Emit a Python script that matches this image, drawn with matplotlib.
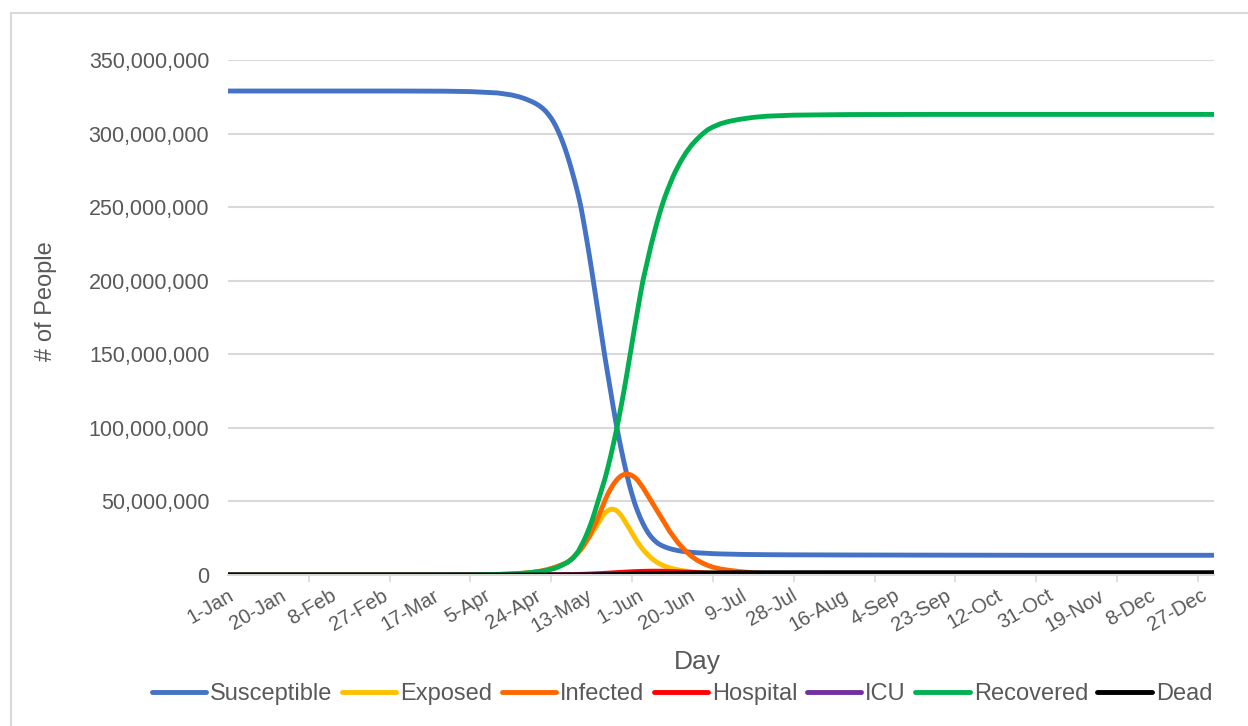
import matplotlib.pyplot as plt
import numpy as np
from matplotlib.ticker import FuncFormatter, FixedLocator
from matplotlib.patches import Rectangle

plt.rcParams['font.family'] = ['Liberation Sans', 'DejaVu Sans']

# day of year (2020) and model output in millions of people
day = [0, 30, 60, 80, 90, 100, 105, 108,
       110, 111, 112, 113, 114, 115, 116, 117, 118, 119, 120,
       121, 122, 123, 124, 125, 126, 127, 128, 129, 130,
       131, 132, 133, 134, 135, 136, 137, 138, 139, 140,
       141, 142, 143, 144, 145, 146, 147, 148, 149, 150,
       151, 152, 153, 154, 155, 156, 157, 158, 159, 160,
       161, 162, 163, 164, 165, 166, 167, 168, 169, 170,
       172, 174, 176, 178, 180, 183, 186, 190, 195, 200, 210, 230, 260, 300, 366]

susceptible = [328.9, 328.9, 328.9, 328.8, 328.5, 327.6, 326.3, 325.0,
               323.8, 323.1, 322.3, 321.5, 320.6, 319.5, 318.3, 316.8, 315.0, 312.8, 310.3,
               307.3, 303.8, 299.8, 295.3, 290.3, 284.8, 278.8, 272.3, 265.5, 258.3,
               250, 240, 229.5, 218.5, 207, 195, 183, 171, 159, 147,
               136, 125, 114, 103.5, 94, 85, 76.5, 68.5, 61, 54.5,
               48.5, 43.5, 39, 35, 31.5, 28.5, 26, 24, 22.3, 21,
               20, 19.2, 18.5, 17.9, 17.4, 17, 16.6, 16.3, 16, 15.8,
               15.4, 15.1, 14.9, 14.7, 14.5, 14.3, 14.2, 14.0, 13.9, 13.8, 13.7, 13.6, 13.5, 13.4, 13.4]
exposed = [0, 0, 0, 0.02, 0.1, 0.3, 0.6, 0.9,
           1.2, 1.35, 1.5, 1.75, 2.0, 2.3, 2.6, 3.0, 3.4, 3.9, 4.4,
           5.0, 5.6, 6.3, 7.0, 7.8, 8.7, 10.0, 11.5, 13.4, 15.5,
           17.6, 20, 22.8, 25.5, 28.3, 31, 34, 37, 40, 42.3,
           43.8, 44.6, 44.7, 44, 42.5, 40.3, 37.5, 34.5, 31.5, 28.3,
           25.3, 22.4, 19.8, 17.4, 15.3, 13.4, 11.7, 10.2, 8.9, 7.8,
           6.9, 6.1, 5.4, 4.8, 4.3, 3.9, 3.5, 3.2, 2.9, 2.6,
           2.2, 1.8, 1.5, 1.3, 1.1, 0.8, 0.6, 0.4, 0.25, 0.15, 0.05, 0, 0, 0, 0]
infected = [0, 0, 0, 0.02, 0.1, 0.3, 0.6, 0.9,
            1.2, 1.35, 1.5, 1.75, 2.0, 2.3, 2.6, 3.0, 3.4, 3.9, 4.4,
            5.0, 5.6, 6.3, 7.0, 7.8, 8.7, 10.0, 11.5, 13.4, 15.5,
            17.5, 20, 23, 26, 29.8, 33.7, 37.6, 42, 46.5, 51,
            55, 58.5, 61.5, 64, 66, 67.5, 68.3, 68.6, 68.3, 67.5,
            66.3, 64.5, 62, 59.5, 56.5, 53.5, 50.5, 47.5, 44.5, 41.5,
            38.5, 35.5, 32.5, 29.5, 27, 24.5, 22, 20, 18, 16,
            12.8, 10.2, 8.2, 6.6, 5.3, 4.0, 3.2, 2.3, 1.5, 1.0, 0.4, 0.1, 0, 0, 0]
hospital = [0, 0, 0, 0, 0, 0.01, 0.02, 0.03,
            0.04, 0.045, 0.05, 0.055, 0.06, 0.07, 0.08, 0.09, 0.1, 0.11, 0.12,
            0.135, 0.15, 0.17, 0.2, 0.22, 0.25, 0.27, 0.3, 0.35, 0.4,
            0.45, 0.5, 0.56, 0.62, 0.7, 0.78, 0.86, 0.95, 1.05, 1.15,
            1.25, 1.36, 1.47, 1.58, 1.7, 1.8, 1.9, 2.0, 2.1, 2.2,
            2.28, 2.35, 2.42, 2.48, 2.52, 2.55, 2.57, 2.58, 2.58, 2.57,
            2.55, 2.52, 2.48, 2.43, 2.37, 2.3, 2.22, 2.14, 2.05, 1.96,
            1.78, 1.6, 1.42, 1.25, 1.1, 0.88, 0.7, 0.5, 0.32, 0.2, 0.08, 0.02, 0, 0, 0]
icu = [0, 0, 0, 0, 0, 0, 0, 0,
       0, 0, 0, 0.005, 0.01, 0.012, 0.015, 0.018, 0.02, 0.023, 0.026,
       0.028, 0.03, 0.035, 0.04, 0.045, 0.05, 0.055, 0.06, 0.07, 0.08,
       0.09, 0.1, 0.11, 0.12, 0.14, 0.15, 0.17, 0.19, 0.21, 0.23,
       0.25, 0.27, 0.29, 0.31, 0.33, 0.35, 0.37, 0.39, 0.41, 0.43,
       0.44, 0.46, 0.47, 0.48, 0.49, 0.5, 0.5, 0.51, 0.51, 0.51,
       0.51, 0.5, 0.5, 0.49, 0.48, 0.47, 0.46, 0.45, 0.44, 0.42,
       0.39, 0.36, 0.33, 0.3, 0.27, 0.23, 0.19, 0.15, 0.1, 0.07, 0.03, 0.01, 0, 0, 0]
recovered = [0, 0, 0, 0.02, 0.08, 0.4, 0.7, 1.0,
             1.3, 1.45, 1.6, 1.8, 2.0, 2.2, 2.45, 2.7, 3.0, 3.4, 3.9,
             4.4, 5.0, 5.8, 6.7, 7.6, 8.6, 10.0, 11.5, 13.6, 16,
             19.5, 23, 27, 31.5, 36.5, 42, 48, 54, 60, 66,
             73, 80.5, 88.5, 97, 106, 115.5, 125.5, 136, 147, 158,
             169, 179.5, 190, 200, 208, 216, 224, 231, 238, 244.5,
             250.5, 256, 261, 265.5, 270, 274, 277.5, 281, 284, 287,
             292, 296, 299.5, 302.5, 304.5, 306.8, 308.3, 309.7, 311, 311.8, 312.5, 312.9, 313, 313, 313]
dead = [0, 0, 0, 0, 0, 0, 0, 0,
        0, 0, 0, 0.003, 0.005, 0.006, 0.007, 0.008, 0.01, 0.012, 0.014,
        0.017, 0.02, 0.023, 0.026, 0.03, 0.03, 0.035, 0.04, 0.045, 0.05,
        0.06, 0.07, 0.08, 0.09, 0.1, 0.11, 0.13, 0.15, 0.17, 0.19,
        0.21, 0.23, 0.26, 0.29, 0.32, 0.35, 0.38, 0.41, 0.45, 0.49,
        0.53, 0.57, 0.61, 0.65, 0.69, 0.73, 0.77, 0.81, 0.85, 0.89,
        0.93, 0.97, 1.0, 1.04, 1.07, 1.1, 1.13, 1.16, 1.19, 1.21,
        1.26, 1.3, 1.34, 1.37, 1.4, 1.43, 1.46, 1.49, 1.51, 1.53, 1.55, 1.56, 1.56, 1.56, 1.56]

tick_labels = ['1-Jan', '20-Jan', '8-Feb', '27-Feb', '17-Mar', '5-Apr', '24-Apr',
               '13-May', '1-Jun', '20-Jun', '9-Jul', '28-Jul', '16-Aug', '4-Sep',
               '23-Sep', '12-Oct', '31-Oct', '19-Nov', '8-Dec', '27-Dec']

series = [('Susceptible', susceptible, '#4472C4'),
          ('Exposed', exposed, '#FFC000'),
          ('Infected', infected, '#FF6600'),
          ('Hospital', hospital, '#FF0000'),
          ('ICU', icu, '#7030A0'),
          ('Recovered', recovered, '#00B050'),
          ('Dead', dead, '#000000')]

grey = '#595959'
fig = plt.figure(figsize=(12.48, 7.26), dpi=100)
ax = fig.add_axes([0.1827, 0.208, 0.7901, 0.7094])

for name, vals, col in series:
    ax.plot(day, np.array(vals) * 1e6, color=col, lw=3.5, label=name,
            solid_capstyle='round', solid_joinstyle='round')

ax.set_xlim(0, 366)
ax.set_ylim(0, 350e6)
ax.set_yticks(np.arange(0, 350e6 + 1, 50e6))
ax.yaxis.set_major_formatter(FuncFormatter(lambda v, p: '{:,.0f}'.format(v)))
ax.grid(axis='y', color='#D9D9D9', lw=1.5)
ax.set_axisbelow(True)
for s in ['top', 'right', 'left']:
    ax.spines[s].set_visible(False)
ax.spines['bottom'].set_color('#D9D9D9')
ax.spines['bottom'].set_linewidth(1.5)

ax.xaxis.set_major_locator(FixedLocator([19 * i for i in range(len(tick_labels))]))
ax.set_xticklabels(tick_labels, rotation=30, ha='right', rotation_mode='anchor')
ax.xaxis.set_minor_locator(FixedLocator(np.arange(0, 366, 30)))
ax.tick_params(axis='x', which='major', length=0, pad=8, labelsize=14.5, labelcolor=grey)
ax.tick_params(axis='x', which='minor', length=5, width=1.2, color='#D9D9D9')
ax.tick_params(axis='y', length=0, pad=13.5, labelsize=15.5, labelcolor=grey)

ax.set_xlabel('Day', fontsize=19, color=grey)
ax.xaxis.set_label_coords(0.476, -0.145)
ax.set_ylabel('# of People', fontsize=17, color=grey)
ax.yaxis.set_label_coords(-0.173, 0.532)

fig.legend(loc='center', bbox_to_anchor=(0.5465, 0.044), ncol=7, frameon=False,
           fontsize=17, labelcolor=grey, handlelength=2.3, handletextpad=0.17,
           columnspacing=0.4)

fig.add_artist(Rectangle((11 / 1248, -0.1), 2, 1 - 13 / 726 + 0.1, transform=fig.transFigure,
                         fill=False, ec='#D9D9D9', lw=1.5))

fig.savefig('out.png', dpi=100)
